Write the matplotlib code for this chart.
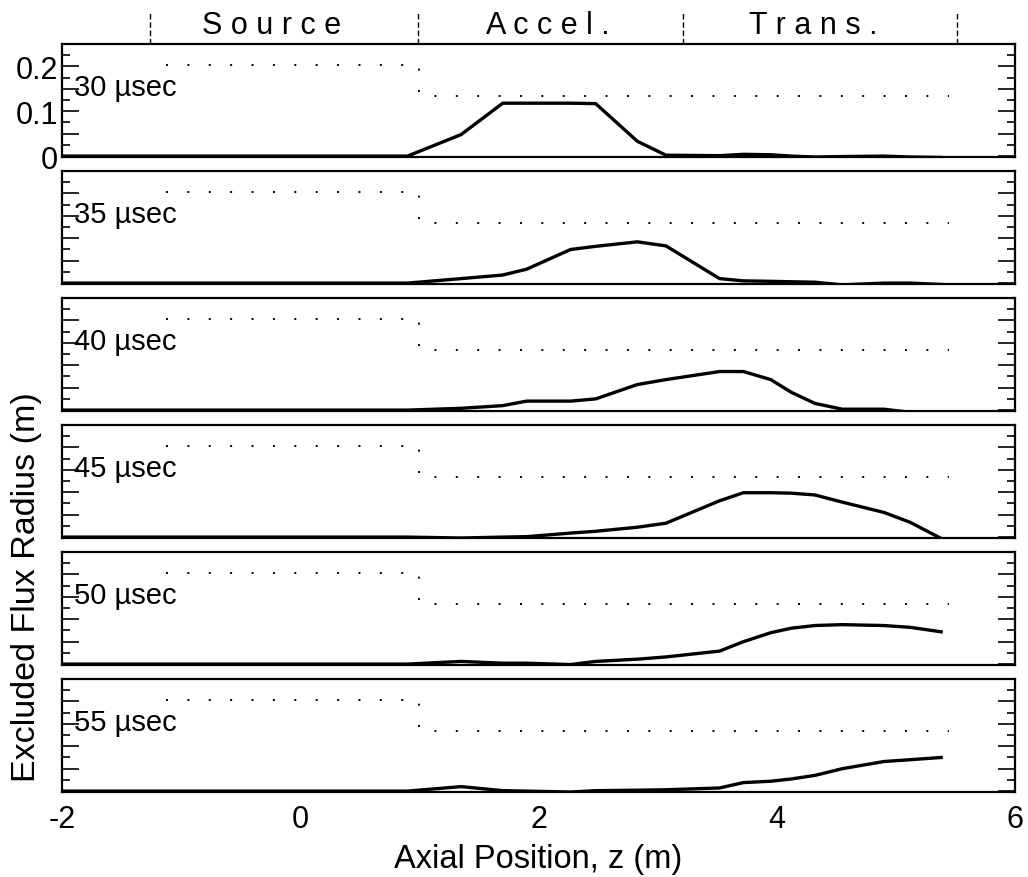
import matplotlib
matplotlib.use("Agg")
import matplotlib.pyplot as plt
import matplotlib.transforms as mtransforms
from matplotlib.ticker import FixedLocator, FixedFormatter

plt.rcParams['font.family'] = ['Liberation Sans', 'DejaVu Sans']
plt.rcParams['axes.unicode_minus'] = False

# Probe positions along the device (m)
z_probe = [-2.0, 0.9, 1.35, 1.7, 1.9, 2.27, 2.48, 2.83, 3.07, 3.52,
           3.72, 3.95, 4.12, 4.32, 4.55, 4.9, 5.12, 5.38]

# Excluded flux radius (m) at each time
times = ["30 \u00b5sec", "35 \u00b5sec", "40 \u00b5sec",
         "45 \u00b5sec", "50 \u00b5sec", "55 \u00b5sec"]
r_30 = [0.0, 0.0, 0.048, 0.118, 0.118, 0.118, 0.117, 0.033, 0.002, 0.001,
        0.004, 0.003, 0.0, -0.002, -0.001, 0.0, -0.002, -0.003]
r_35 = [0.0, 0.0, 0.010, 0.018, 0.031, 0.075, 0.082, 0.092, 0.083, 0.010,
        0.005, 0.004, 0.003, 0.002, -0.004, 0.0, 0.0, -0.003]
r_40 = [0.0, 0.0, 0.004, 0.010, 0.020, 0.020, 0.025, 0.057, 0.068, 0.086,
        0.086, 0.068, 0.040, 0.015, 0.002, 0.002, -0.005, -0.004]
r_45 = [0.0, 0.0, -0.002, 0.0, 0.001, 0.009, 0.013, 0.022, 0.031, 0.081,
        0.099, 0.099, 0.098, 0.094, 0.078, 0.055, 0.033, -0.003]
r_50 = [0.0, 0.0, 0.006, 0.002, 0.002, -0.001, 0.006, 0.011, 0.016, 0.029,
        0.050, 0.070, 0.080, 0.086, 0.088, 0.086, 0.082, 0.072]
r_55 = [0.0, 0.0, 0.010, 0.001, 0.0, -0.002, 0.001, 0.002, 0.003, 0.007,
        0.019, 0.022, 0.027, 0.035, 0.050, 0.066, 0.070, 0.075]
radii = [r_30, r_35, r_40, r_45, r_50, r_55]

# Wall radius profile (dotted)
z_wall = [-1.13, 1.0, 1.0, 5.45]
r_wall = [0.203, 0.203, 0.135, 0.135]

# Section boundaries and names
z_sections = [-1.26, 0.99, 3.21, 5.51]
section_names = ["S o u r c e", "A c c e l .", "T r a n s ."]
section_centers = [-0.24, 2.08, 4.31]

xticks = [-2, 0, 2, 4, 6]
yticks_major = [0.0, 0.05, 0.10, 0.15, 0.20, 0.25]
yticks_minor = [0.025, 0.075, 0.125, 0.175, 0.225]
ylabels_top = ["0", "", "0.1", "", "0.2", ""]

W, H = 1028, 878
fig = plt.figure(figsize=(W / 100, H / 100), dpi=100)

left_px, right_px = 62, 1015
panel_h = 113
pitch = 127
first_bottom = 158

axes = []
for i, (label, r) in enumerate(zip(times, radii)):
    bottom_px = first_bottom + pitch * i
    ax = fig.add_axes([left_px / W, 1 - bottom_px / H,
                       (right_px - left_px) / W, panel_h / H])
    ax.plot(z_probe, r, color='black', lw=2.4, solid_joinstyle='round')
    ax.plot(z_wall, r_wall, color='black', lw=1.4,
            linestyle=(0, (1.0, 10.0)))
    ax.text(-1.9, 0.155, label, fontsize=21, ha='left', va='center')
    ax.set_xlim(-2, 6)
    ax.set_ylim(-0.002, 0.25)
    ax.yaxis.set_major_locator(FixedLocator(yticks_major))
    ax.yaxis.set_minor_locator(FixedLocator(yticks_minor))
    if i == 0:
        ax.yaxis.set_major_formatter(FixedFormatter(ylabels_top))
    else:
        ax.yaxis.set_major_formatter(FixedFormatter([""] * len(yticks_major)))
    ax.tick_params(axis='y', which='major', direction='in', length=12,
                   width=1.2, left=True, right=True, labelsize=22, pad=3)
    ax.tick_params(axis='y', which='minor', direction='in', length=6,
                   width=1.2, left=True, right=True)
    ax.set_xticks(xticks)
    ax.tick_params(axis='x', which='both', length=0, labelsize=22, pad=9)
    if i < len(times) - 1:
        ax.tick_params(axis='x', labelbottom=False)
    for s in ax.spines.values():
        s.set_linewidth(1.6)
    axes.append(ax)

axes[-1].set_xlabel("Axial Position, z (m)", fontsize=23.5, labelpad=6)

# Section header above the top panel
top = axes[0]
trans = mtransforms.blended_transform_factory(top.transData, top.transAxes)
for zs in z_sections:
    top.plot([zs, zs], [1.0, 1.27], transform=trans, color='black',
             lw=1.0, linestyle=(0, (4, 2)), clip_on=False)
for name, zc in zip(section_names, section_centers):
    top.text(zc, 1.165, name, transform=trans, fontsize=22,
             ha='center', va='center')

fig.text(27 / W, 1 - 587 / H, "Excluded Flux Radius (m)", fontsize=24.5,
         rotation=90, ha='center', va='center')

fig.savefig("out.png", dpi=100)
